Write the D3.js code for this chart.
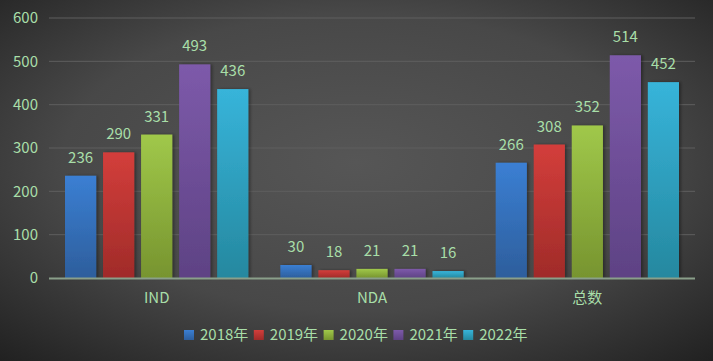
<!DOCTYPE html>
<html lang="zh">
<head>
<meta charset="UTF-8">
<title>IND / NDA</title>
<script src="https://cdn.jsdelivr.net/npm/d3@7"></script>
<style>
  html, body { margin: 0; padding: 0; background: #333; }
  svg { display: block; }
</style>
</head>
<body>
<div id="chart"></div>
<script>
// data
const categories = ["IND", "NDA", "总数"];
const years = ["2018年", "2019年", "2020年", "2021年", "2022年"];
const values = {
  "2018年": [236, 30, 266],
  "2019年": [290, 18, 308],
  "2020年": [331, 21, 352],
  "2021年": [493, 21, 514],
  "2022年": [436, 16, 452]
};
const yTicks = [0, 100, 200, 300, 400, 500, 600];

// colours per year: [top, bottom]
const colors = [
  ["#3b7fd3", "#2d5e9c"],
  ["#d33e3b", "#a02b29"],
  ["#a0c84a", "#77942f"],
  ["#7d5aaa", "#5e4284"],
  ["#37b4da", "#25889f"]
];
const textColor = "#a8dea8";
const font = "'Noto Sans CJK SC', 'Noto Sans', sans-serif";

const width = 713, height = 361;
const margin = {top: 18, left: 49, right: 18, bottom: 83};
const plotWidth = width - margin.left - margin.right;
const plotHeight = height - margin.top - margin.bottom;

const svg = d3.select("#chart").append("svg")
  .attr("width", width)
  .attr("height", height);

const defs = svg.append("defs");
const bg = defs.append("radialGradient")
  .attr("id", "bg")
  .attr("cx", "50%").attr("cy", "45%").attr("r", "75%");
bg.append("stop").attr("offset", "0%").attr("stop-color", "#565656");
bg.append("stop").attr("offset", "55%").attr("stop-color", "#484848");
bg.append("stop").attr("offset", "100%").attr("stop-color", "#202020");

colors.forEach(function(c, i) {
  const g = defs.append("linearGradient")
    .attr("id", "bar" + i)
    .attr("x1", 0).attr("y1", 0).attr("x2", 0).attr("y2", 1);
  g.append("stop").attr("offset", "0%").attr("stop-color", c[0]);
  g.append("stop").attr("offset", "100%").attr("stop-color", c[1]);
});

const shadow = defs.append("filter").attr("id", "shadow")
  .attr("x", "-20%").attr("y", "-20%").attr("width", "150%").attr("height", "140%");
shadow.append("feDropShadow")
  .attr("dx", 2).attr("dy", 0).attr("stdDeviation", 1.5)
  .attr("flood-color", "#000").attr("flood-opacity", 0.35);

svg.append("rect")
  .attr("width", width).attr("height", height)
  .attr("fill", "url(#bg)");

const g = svg.append("g")
  .attr("transform", "translate(" + margin.left + "," + margin.top + ")");

// scales
const x0 = d3.scaleBand().domain(categories).range([0, plotWidth]);
const x1 = d3.scaleBand().domain(years)
  .range([16, x0.bandwidth() - 16]).paddingInner(0.18);
const y = d3.scaleLinear().domain([0, 600]).range([plotHeight, 0]);

// grid
g.append("g")
  .selectAll("line")
  .data(yTicks.filter(d => d > 0))
  .enter().append("line")
    .attr("x1", 0).attr("x2", plotWidth)
    .attr("y1", d => y(d)).attr("y2", d => y(d))
    .attr("stroke", "#5e5e5e").attr("stroke-width", 1);

// y axis labels
const yAxis = g.append("g")
  .call(d3.axisLeft(y).tickValues(yTicks).tickSize(0).tickPadding(11));
yAxis.select(".domain").remove();
yAxis.selectAll("text")
  .attr("fill", textColor)
  .style("font-family", font)
  .style("font-size", "15px");

// bars
const groups = g.append("g")
  .selectAll("g")
  .data(categories)
  .enter().append("g")
    .attr("transform", d => "translate(" + x0(d) + ",0)");

groups.selectAll("rect")
  .data((c, ci) => years.map((yr, i) => ({yr: yr, i: i, v: values[yr][ci]})))
  .enter().append("rect")
    .attr("x", d => x1(d.yr))
    .attr("y", d => y(d.v))
    .attr("width", x1.bandwidth())
    .attr("height", d => plotHeight - y(d.v))
    .attr("fill", d => "url(#bar" + d.i + ")")
    .attr("filter", "url(#shadow)");

groups.selectAll("text")
  .data((c, ci) => years.map((yr, i) => ({yr: yr, i: i, v: values[yr][ci]})))
  .enter().append("text")
    .attr("x", d => x1(d.yr) + x1.bandwidth() / 2)
    .attr("y", d => y(d.v) - 13)
    .attr("text-anchor", "middle")
    .attr("fill", textColor)
    .style("font-family", font)
    .style("font-size", "15px")
    .text(d => d.v);

// x axis
g.append("line")
  .attr("x1", 0).attr("x2", plotWidth)
  .attr("y1", plotHeight + 0.5).attr("y2", plotHeight + 0.5)
  .attr("stroke", "#8a9f8a").attr("stroke-width", 2);

const xAxis = g.append("g")
  .attr("transform", "translate(0," + plotHeight + ")")
  .call(d3.axisBottom(x0).tickSize(0).tickPadding(14));
xAxis.select(".domain").remove();
xAxis.selectAll("text")
  .attr("fill", textColor)
  .style("font-family", font)
  .style("font-size", "15px");

// legend
const legend = svg.append("g")
  .attr("transform", "translate(184,330)");
const item = legend.selectAll("g")
  .data(years)
  .enter().append("g")
    .attr("transform", (d, i) => "translate(" + (i * 69.8) + ",0)");
item.append("rect")
  .attr("width", 10).attr("height", 10)
  .attr("fill", (d, i) => "url(#bar" + i + ")");
item.append("text")
  .attr("x", 16).attr("y", 5)
  .attr("dy", "0.36em")
  .attr("fill", textColor)
  .style("font-family", font)
  .style("font-size", "15px")
  .text(d => d);
</script>
</body>
</html>
